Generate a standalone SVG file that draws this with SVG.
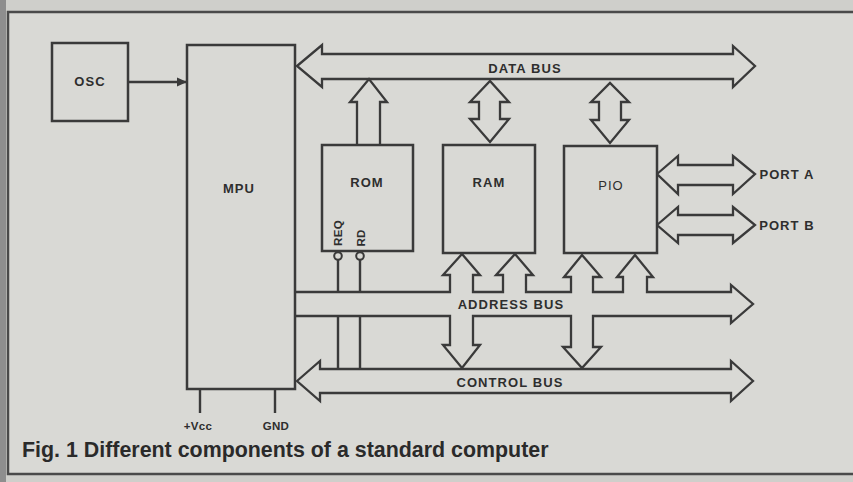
<svg xmlns="http://www.w3.org/2000/svg" width="853" height="482" viewBox="0 0 853 482">
<defs>
<style>
.ln{fill:none;stroke:#3a3a3a;stroke-width:2.4;stroke-linejoin:miter}
.bx{fill:#d9d9d5;stroke:#3a3a3a;stroke-width:2.5}
.bus{fill:#d9d9d5;stroke:#3a3a3a;stroke-width:2.3;stroke-linejoin:miter}
.t{font-family:"Liberation Sans",Arial,sans-serif;font-weight:bold;font-size:13px;fill:#2e2e2e;text-anchor:middle;letter-spacing:1.1px}
.s{font-size:11.5px;letter-spacing:0.3px}
.cap{font-family:"Liberation Sans",Arial,sans-serif;font-weight:bold;font-size:21.4px;fill:#2a2a2a}
</style>
<marker id="ah" markerWidth="10" markerHeight="10" refX="9" refY="5" orient="auto" markerUnits="userSpaceOnUse">
<path d="M0,0.5 L10,5 L0,9.5 Z" fill="#3a3a3a"/>
</marker>
</defs>
<rect x="0" y="0" width="853" height="482" fill="#cfcfcb"/>
<rect x="8" y="12" width="850" height="462" fill="#d9d9d5" stroke="#4a4a4a" stroke-width="2.5"/>
<rect x="0" y="0" width="6" height="482" fill="#8e8e8e"/>

<g id="connectors">
<line class="ln" x1="128" y1="82" x2="186" y2="82" marker-end="url(#ah)"/>
<line class="ln" x1="200" y1="389" x2="200" y2="413"/>
<line class="ln" x1="275" y1="389" x2="275" y2="413"/>
<path id="data-bus" class="bus" d="M297,66 L322,45 V54 H733 V46 L755,66 L733,87 V79 H322 V87 Z"/>
<path class="bus" d="M357,145 V102 H350 L369,79 L387,102 H380 V145"/>
<path class="bus" d="M479,119 V102 H470 L490,81 L509,102 H500 V119 H509 L490,142 L470,119 Z"/>
<path class="bus" d="M599,120 V102 H591 L610,83 L629,102 H621 V120 H629 L610,143 L591,120 Z"/>
<path id="port-a" class="bus" d="M657,174 L678,156 V165 H733 V156 L755,174 L733,194 V185 H678 V194 Z"/>
<path id="port-b" class="bus" d="M657,225 L678,207 V215 H733 V207 L755,225 L733,243 V235 H678 V243 Z"/>
<path id="address-bus" class="bus" d="M295,292 H450 V275 H443 L462,254 L480,275 H473 V292 H503 V275 H496 L515,254 L533,275 H526 V292 H571 V277 H564 L582,255 L601,277 H593 V292 H623 V277 H617 L635,255 L653,277 H647 V292 H731 V285 L753,304 L731,323 V316 H593 V347 H601 L582,368 L563,347 H571 V316 H473 V345 H480 L462,368 L443,345 H450 V316 H295"/>
<path id="control-bus" class="bus" d="M297,381 L320,361 V369 H731 V361 L753,381 L731,401 V393 H320 V401 Z"/>
<circle cx="338" cy="256" r="3.8" fill="#d9d9d5" stroke="#3a3a3a" stroke-width="2"/>
<circle cx="360" cy="256" r="3.8" fill="#d9d9d5" stroke="#3a3a3a" stroke-width="2"/>
<path class="ln" d="M338,260 V292 M360,260 V292 M338,316 V369 M360,316 V369"/>
<text class="t" x="525" y="73">DATA BUS</text>
<text class="t" x="511" y="309">ADDRESS BUS</text>
<text class="t" x="510" y="387">CONTROL BUS</text>
<text class="t" x="787" y="179">PORT A</text>
<text class="t" x="787" y="230">PORT B</text>
</g>

<g id="osc">
<rect class="bx" x="52" y="43" width="76" height="78"/>
<text class="t" x="90" y="86">OSC</text>
</g>
<g id="mpu">
<rect class="bx" x="187" y="45" width="108" height="344"/>
<text class="t" x="239" y="193">MPU</text>
</g>
<g id="rom">
<rect class="bx" x="322" y="145" width="91" height="106"/>
<text class="t" x="367" y="187">ROM</text>
<text class="t s" transform="translate(342,233) rotate(-90)">REQ</text>
<text class="t s" transform="translate(365,238) rotate(-90)">RD</text>
</g>
<g id="ram">
<rect class="bx" x="443" y="145" width="92" height="108"/>
<text class="t" x="489" y="187">RAM</text>
</g>
<g id="pio">
<rect class="bx" x="564" y="146" width="93" height="107"/>
<text class="t" x="611" y="190" style="font-weight:normal">PIO</text>
</g>
<g id="power">
<text class="t s" x="198" y="430">+Vcc</text>
<text class="t s" x="276" y="430">GND</text>
</g>
<text class="cap" x="22" y="457">Fig. 1 Different components of a standard computer</text>
</svg>
